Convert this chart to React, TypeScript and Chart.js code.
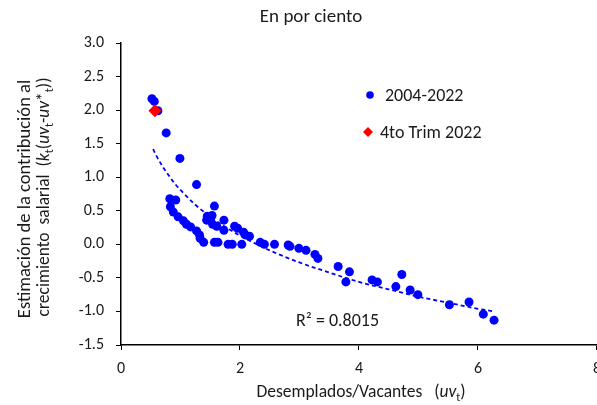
import React, { useEffect, useRef } from "react";
import { Chart, registerables } from "chart.js";

Chart.register(...registerables);

const FONT = "Carlito, Lato, 'Open Sans', sans-serif";
const TEXT = "#1a1a1a";
const BLUE = "#0000ff";
const RED = "#ff0000";

const titleText = "En por ciento";
const seriesLabel = "2004-2022";
const latestLabel = "4to Trim 2022";
const r2Label = "R² = 0.8015";

// 2004-2022 observations: u/v ratio and estimated contribution
const uvSeries = [
  0.52, 0.56, 0.62, 0.76, 0.99, 1.27, 0.82, 0.92, 0.83, 0.88,
  0.96, 1.05, 1.10, 1.17, 1.27, 1.32, 1.33, 1.39, 1.57, 1.45,
  1.53, 1.44, 1.54, 1.61, 1.73, 1.73, 1.91, 1.96, 2.06, 2.09,
  2.16, 1.57, 1.63, 1.80, 1.87, 2.03, 2.34, 2.41, 2.58, 2.81,
  2.84, 2.99, 3.11, 3.26, 3.31, 3.65, 3.84, 3.78, 4.22, 4.31,
  4.72, 4.62, 4.86, 4.99, 5.52, 5.85, 6.09, 6.27,
];
const contribSeries = [
  2.17, 2.13, 1.99, 1.66, 1.28, 0.89, 0.68, 0.66, 0.56, 0.48,
  0.41, 0.35, 0.30, 0.26, 0.20, 0.14, 0.09, 0.03, 0.57, 0.42,
  0.43, 0.36, 0.30, 0.27, 0.36, 0.21, 0.27, 0.24, 0.18, 0.14,
  0.12, 0.03, 0.03, 0.00, 0.00, 0.00, 0.03, 0.00, 0.00, -0.01,
  -0.03, -0.06, -0.09, -0.15, -0.21, -0.33, -0.41, -0.56, -0.53, -0.56,
  -0.45, -0.63, -0.68, -0.75, -0.90, -0.86, -1.04, -1.13,
];

// 4to Trim 2022
const uvLatest = [0.57];
const contribLatest = [1.99];

// Trend line (log fit)
const trendUv = [0.54, 0.6, 0.7, 0.8, 0.9, 1.0, 1.25, 1.5, 1.75, 2.0, 2.5, 3.0, 3.5, 4.0, 4.5, 5.0, 5.5, 6.0, 6.28];
const trendContrib = [1.42, 1.31, 1.16, 1.03, 0.91, 0.81, 0.59, 0.41, 0.26, 0.13, -0.09, -0.27, -0.42, -0.56, -0.67, -0.78, -0.87, -0.96, -1.0];

const xMin = 0;
const xMax = 8;
const xStep = 2;
const yMin = -1.5;
const yMax = 3.0;
const yStep = 0.5;

type Seg = { t: string; s: "n" | "i" | "sub" };

function drawRich(ctx: CanvasRenderingContext2D, segs: Seg[], size: number) {
  const fontFor = (s: Seg["s"]) =>
    s === "i" ? `italic ${size}px ${FONT}` : s === "sub" ? `${Math.round(size * 0.68)}px ${FONT}` : `${size}px ${FONT}`;
  let total = 0;
  const widths = segs.map((g) => {
    ctx.font = fontFor(g.s);
    const w = ctx.measureText(g.t).width;
    total += w;
    return w;
  });
  let x = -total / 2;
  ctx.textAlign = "left";
  ctx.textBaseline = "alphabetic";
  segs.forEach((g, i) => {
    ctx.font = fontFor(g.s);
    ctx.fillText(g.t, x, g.s === "sub" ? size * 0.22 : 0);
    x += widths[i];
  });
}

const annotate = {
  id: "annotate",
  afterDraw(chart: any) {
    const ctx: CanvasRenderingContext2D = chart.ctx;
    ctx.save();
    ctx.fillStyle = TEXT;

    // title
    ctx.font = `19px ${FONT}`;
    ctx.textAlign = "center";
    ctx.textBaseline = "middle";
    ctx.fillText(titleText, 311, 17);

    // legend
    ctx.fillStyle = BLUE;
    ctx.beginPath();
    ctx.arc(370, 95, 3.8, 0, Math.PI * 2);
    ctx.fill();
    ctx.fillStyle = RED;
    ctx.beginPath();
    ctx.moveTo(363, 132);
    ctx.lineTo(368, 127);
    ctx.lineTo(373, 132);
    ctx.lineTo(368, 137);
    ctx.closePath();
    ctx.fill();
    ctx.fillStyle = TEXT;
    ctx.font = `18px ${FONT}`;
    ctx.textAlign = "left";
    ctx.textBaseline = "middle";
    ctx.fillText(seriesLabel, 385, 96);
    ctx.fillText(latestLabel, 380, 133);

    // R2
    ctx.font = `18px ${FONT}`;
    ctx.textAlign = "left";
    ctx.fillText(r2Label, 296, 321);

    // x title
    ctx.save();
    ctx.translate(361, 397);
    drawRich(
      ctx,
      [
        { t: "Desemplados/Vacantes   (", s: "n" },
        { t: "uv", s: "i" },
        { t: "t", s: "sub" },
        { t: ")", s: "n" },
      ],
      17.5
    );
    ctx.restore();

    // y title, two rotated lines
    ctx.save();
    ctx.translate(30, 199);
    ctx.rotate(-Math.PI / 2);
    drawRich(ctx, [{ t: "Estimación de la contribución al", s: "n" }], 18.5);
    ctx.restore();

    ctx.save();
    ctx.translate(49, 197);
    ctx.rotate(-Math.PI / 2);
    drawRich(
      ctx,
      [
        { t: "crecimiento  salarial  (", s: "n" },
        { t: "k", s: "i" },
        { t: "t", s: "sub" },
        { t: "(", s: "n" },
        { t: "uv", s: "i" },
        { t: "t", s: "sub" },
        { t: "-", s: "n" },
        { t: "uv", s: "i" },
        { t: "*", s: "n" },
        { t: "t", s: "sub" },
        { t: "))", s: "n" },
      ],
      17.5
    );
    ctx.restore();

    ctx.restore();
  },
};

export default function App() {
  const ref = useRef<HTMLCanvasElement | null>(null);

  useEffect(() => {
    if (!ref.current) return;
    const series = uvSeries.map((x, i) => ({ x, y: contribSeries[i] }));
    const latest = uvLatest.map((x, i) => ({ x, y: contribLatest[i] }));
    const trend = trendUv.map((x, i) => ({ x, y: trendContrib[i] }));

    const chart = new Chart(ref.current, {
      type: "scatter",
      data: {
        datasets: [
          {
            label: latestLabel,
            data: latest,
            pointStyle: "rectRot",
            pointRadius: 6.5,
            backgroundColor: RED,
            borderWidth: 0,
            order: 0,
          },
          {
            label: seriesLabel,
            data: series,
            pointStyle: "circle",
            pointRadius: 4.5,
            backgroundColor: BLUE,
            borderWidth: 0,
            order: 1,
          },
          {
            label: "trend",
            data: trend,
            showLine: true,
            pointRadius: 0,
            borderColor: BLUE,
            borderWidth: 1.8,
            borderDash: [4, 3],
            cubicInterpolationMode: "monotone",
            fill: false,
            order: 2,
          } as any,
        ],
      },
      options: {
        responsive: false,
        devicePixelRatio: 1,
        animation: false,
        layout: { padding: { top: 43, right: 10, bottom: 0, left: 0 } },
        plugins: {
          legend: { display: false },
          tooltip: { enabled: false },
          title: { display: false },
        },
        scales: {
          x: {
            type: "linear",
            min: xMin,
            max: xMax,
            ticks: {
              stepSize: xStep,
              color: TEXT,
              font: { family: FONT, size: 16 },
              padding: 9,
            },
            grid: {
              display: true,
              drawOnChartArea: false,
              drawTicks: true,
              tickLength: 5,
              color: "#000",
              lineWidth: 1,
            },
            border: { display: true, color: "#000", width: 1.5 },
            afterFit: (s: any) => {
              s.height = 60;
            },
          },
          y: {
            type: "linear",
            min: yMin,
            max: yMax,
            ticks: {
              stepSize: yStep,
              color: TEXT,
              font: { family: FONT, size: 16 },
              padding: 12,
              callback: (v: any) => Number(v).toFixed(1),
            },
            grid: {
              display: true,
              drawOnChartArea: false,
              drawTicks: true,
              tickLength: 5,
              color: "#000",
              lineWidth: 1,
            },
            border: { display: true, color: "#000", width: 1.5 },
            afterFit: (s: any) => {
              s.width = 121;
            },
          },
        },
      } as any,
      plugins: [annotate],
    });
    return () => chart.destroy();
  }, []);

  return (
    <div style={{ position: "fixed", left: 0, top: 0, width: 610, height: 405, background: "#fff" }}>
      <canvas ref={ref} width={610} height={405} style={{ width: 610, height: 405, display: "block" }} />
    </div>
  );
}
